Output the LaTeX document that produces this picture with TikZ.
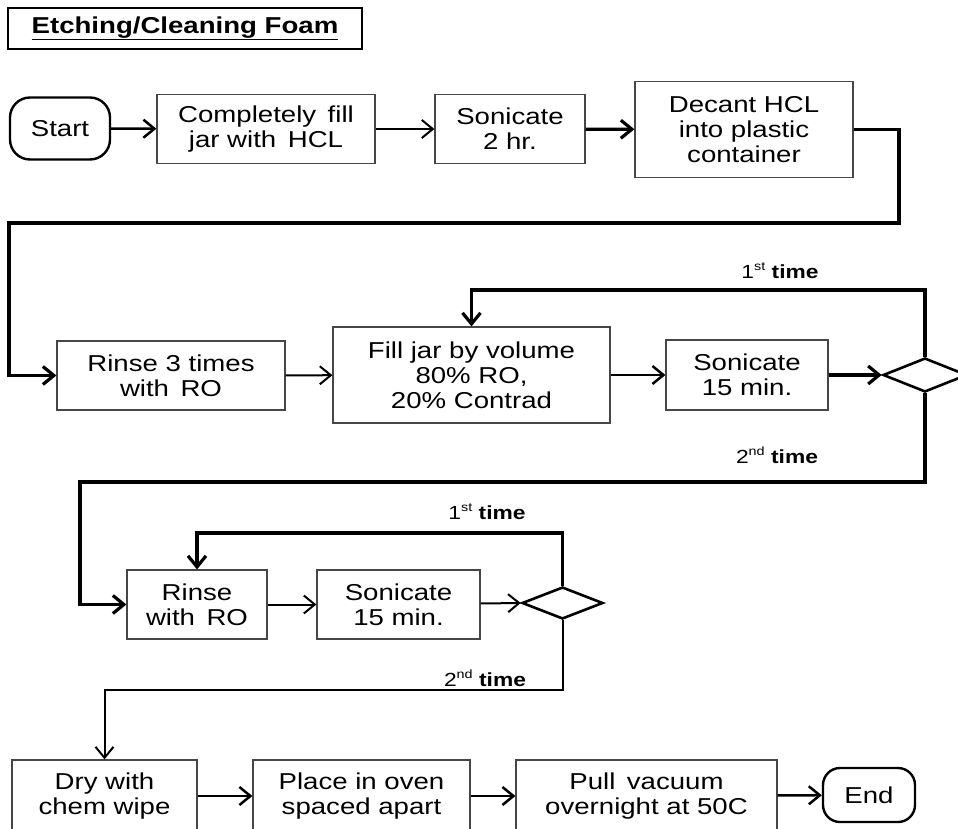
\documentclass[tikz,border=0pt]{standalone}
\usepackage{fontspec}
\setmainfont{Liberation Sans}[FakeStretch=1.2]
\usetikzlibrary{arrows.meta,shapes.geometric}
\definecolor{boxgray}{RGB}{70,70,70}
\tikzset{
  box/.style={draw=boxgray, line width=1.2pt, rectangle, align=center, inner sep=0pt,
    font=\fontsize{23}{25}\selectfont},
  term/.style={draw=black, line width=2.4pt, rectangle, rounded corners=20pt, inner sep=0pt,
    font=\fontsize{23}{25}\selectfont},
  dec/.style={draw=black, line width=2.6pt, diamond, inner sep=0pt},
  lbl/.style={anchor=base, inner sep=0pt, font=\fontsize{19}{21}\selectfont},
  arr/.style={-{Straight Barb[length=11pt,width=18pt]}},
  thin/.style={line width=2pt},
  mid/.style={line width=2.5pt},
  heavy/.style={line width=3.2pt},
}
\newcommand{\ordsup}[1]{\raisebox{0.42em}{\fontsize{12}{12}\selectfont\mdseries #1}}
\begin{document}
\begin{tikzpicture}[x=1pt,y=-1pt]
\useasboundingbox (0,0) rectangle (958,829);
\fill[white] (0,0) rectangle (958,829);
\clip (0,0) rectangle (958,829);

% title
\node[draw=black, line width=2pt, minimum width=354pt, minimum height=41pt, inner sep=0pt,
  font=\fontsize{23}{25}\selectfont\bfseries] (title) at (185,28.5) {\underline{Etching/Cleaning Foam}};

% row 1
\node[term, minimum width=100pt, minimum height=62pt] (start) at (60,128.5) {Start};
\node[box, minimum width=218pt, minimum height=69pt] (b1) at (266,129) {Completely\, fill\\jar with\, HCL};
\node[box, minimum width=150pt, minimum height=69pt] (s1) at (510,129) {Sonicate\\2 hr.};
\node[box, minimum width=218pt, minimum height=96pt] (dc) at (744,129.5) {Decant HCL\\into plastic\\container};

% row 2
\node[box, minimum width=228pt, minimum height=69pt] (r3) at (171,375.5) {Rinse 3 times\\with\, RO};
\node[box, minimum width=277pt, minimum height=96pt] (fill) at (471.5,375) {Fill jar by volume\\80\% RO,\\20\% Contrad};
\node[box, minimum width=162pt, minimum height=70pt] (s15) at (747,375) {Sonicate\\15 min.};
\node[dec, minimum width=84pt, minimum height=34pt] (d1) at (925,375) {};

% row 3
\node[box, minimum width=140pt, minimum height=69pt] (rro) at (197,604.5) {Rinse\\with\, RO};
\node[box, minimum width=163pt, minimum height=69pt] (s15b) at (398.5,604.5) {Sonicate\\15 min.};
\node[dec, minimum width=81pt, minimum height=32pt] (d2) at (562.5,603) {};

% row 4
\node[box, minimum width=185pt, minimum height=72pt] (dry) at (104.5,796) {Dry with\\chem wipe};
\node[box, minimum width=217pt, minimum height=72pt] (place) at (361.5,796) {Place in oven\\spaced apart};
\node[box, minimum width=261pt, minimum height=72pt] (pull) at (646.5,796) {Pull\, vacuum\\overnight at 50C};
\node[term, minimum width=92pt, minimum height=54pt, rounded corners=17pt] (endn) at (869,795) {End};

% labels
\node[lbl] (l1a) at (780,278) {1\ordsup{st} \textbf{time}};
\node[lbl] (l1b) at (777,463) {2\ordsup{nd} \textbf{time}};
\node[lbl] (l2a) at (487,519) {1\ordsup{st} \textbf{time}};
\node[lbl] (l2b) at (485,686) {2\ordsup{nd} \textbf{time}};

% helper coordinates
\coordinate (c1a) at (899,223);
\coordinate (c1b) at (9,223);
\coordinate (lp1) at (471.5,290);
\coordinate (c2a) at (80,482);
\coordinate (lp2) at (197,533);
\coordinate (c3) at (104.5,690);

% connectors row 1
\draw[mid,arr] (start) -- (b1);
\draw[thin,arr] (b1) -- (s1);
\draw[heavy,arr] (s1) -- (dc);
\draw[heavy,arr] (dc.east) -| (c1a) -- (c1b) |- (r3.west);

% row 2
\draw[thin,arr] (r3) -- (fill);
\draw[mid,arr] (fill) -- (s15);
\draw[heavy,arr] (s15) -- (d1.west);
\draw[heavy,arr] (d1.north) |- (lp1) -- (fill.north);
\draw[heavy,arr] (d1.south) |- (c2a) |- (rro.west);

% row 3
\draw[thin,arr] (rro) -- (s15b);
\draw[thin,arr] (s15b) -- (d2.west);
\draw[heavy,arr] (d2.north) |- (lp2) -- (rro.north);
\draw[thin,arr] (d2.south) |- (c3) -- (dry.north);

% row 4
\draw[mid,arr] (dry) -- (place);
\draw[mid,arr] (place) -- (pull);
\draw[mid,arr] (pull) -- (endn);
\end{tikzpicture}
\end{document}
